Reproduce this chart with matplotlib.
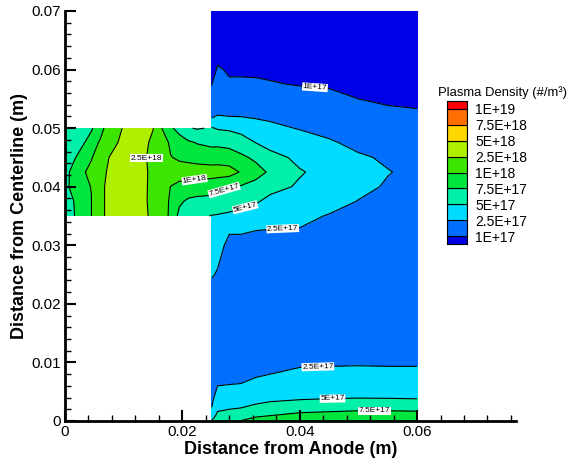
import numpy as np
import matplotlib
matplotlib.use('Agg')
import matplotlib.pyplot as plt
from matplotlib.ticker import MultipleLocator

plt.rcParams['font.family'] = ['Liberation Sans', 'DejaVu Sans']

# contour levels (#/m^3) and legend labels
levels = [1e17, 2.5e17, 5e17, 7.5e17, 1e18, 2.5e18, 5e18, 7.5e18, 1e19]
level_labels = ['1E+17', '2.5E+17', '5E+17', '7.5E+17', '1E+18',
                '2.5E+18', '5E+18', '7.5E+18', '1E+19']
# band colours, lowest band first
band_colors = ['#0000e6', '#006eff', '#00dcff', '#00f0aa', '#00e63c',
               '#3ce600', '#afef00', '#ffd700', '#ff6e00', '#ff0000']

# ---- channel region (density in units of 1E17 #/m^3) ----
chan_x = [0, .0015, .003, .0045, .006, .0075, .009, .0105, .012, .0135,
          .015, .0165, .018, .0195, .021, .0225, .025]
chan_y = [0.035, 0.0375, 0.040, 0.0425, 0.045, 0.0475, 0.050]
chan_n = [
    [6.8, 7.4, 8.6, 9.9, 22, 28, 30.5, 31, 30, 27, 22.5, 12.5, 9.0, 7.0, 6.0, 5.5, 4.9],
    [6.8, 7.5, 8.8, 9.9, 22, 28, 31, 31.5, 30.5, 27, 21, 12, 9.4, 7.8, 7.2, 7.0, 6.8],
    [7.0, 8.1, 9.2, 10.1, 22, 28, 31, 32, 31, 27, 21.5, 13, 9.9, 8.8, 8.6, 8.5, 8.5],
    [7.0, 8.0, 9.3, 11.5, 18, 28, 31, 32, 31, 27, 22, 14, 12.5, 12, 11.8, 11.5, 11.2],
    [6.8, 7.3, 8.2, 9.6, 13, 25, 30, 31, 30, 26.5, 21, 12, 10.2, 9.3, 9.0, 8.8, 8.7],
    [6.0, 6.7, 7.3, 8.2, 10.5, 17, 25, 30, 31, 28, 22, 12.5, 9.2, 8.4, 7.9, 7.4, 7.0],
    [5.5, 6.2, 6.8, 7.3, 8.5, 12, 22, 28, 31, 29, 25.5, 10, 7.8, 6.8, 5.2, 4.8, 5.2],
]

# ---- plume region (density in units of 1E17 #/m^3) ----
plume_x = [0.025, 0.026, 0.028, 0.030, 0.0325, 0.035, 0.040, 0.045, 0.050, 0.055, 0.060]
plume_y = [0, 0.001, 0.002, 0.004, 0.006, 0.008, 0.010, 0.015, 0.020, 0.025, 0.030,
           0.0325, 0.035, 0.0375, 0.040, 0.0425, 0.045, 0.0475, 0.050, 0.0525,
           0.055, 0.0575, 0.060, 0.065, 0.070]
plume_n = [
    [5.0, 6.5, 7.0, 7.6, 8.3, 8.6, 9.0, 9.2, 9.3, 9.3, 9.2],
    [3.8, 5.5, 6.0, 6.3, 7.1, 7.4, 8.0, 8.2, 8.4, 8.4, 8.35],
    [2.6, 4.7, 5.0, 5.2, 5.8, 6.3, 6.8, 7.0, 7.2, 7.2, 7.1],
    [2.0, 3.3, 3.4, 3.5, 4.0, 4.3, 4.6, 4.8, 4.9, 4.85, 4.75],
    [1.8, 2.5, 2.55, 2.6, 3.0, 3.3, 3.6, 3.7, 3.7, 3.7, 3.6],
    [1.65, 2.0, 2.1, 2.1, 2.3, 2.5, 2.9, 2.9, 3.0, 2.9, 2.9],
    [1.6, 1.75, 1.8, 1.8, 1.9, 2.0, 2.2, 2.3, 2.3, 2.3, 2.3],
    [1.55, 1.6, 1.6, 1.6, 1.6, 1.6, 1.7, 1.7, 1.7, 1.7, 1.7],
    [1.8, 1.65, 1.6, 1.6, 1.6, 1.55, 1.6, 1.55, 1.5, 1.5, 1.5],
    [2.6, 2.4, 1.85, 1.8, 1.75, 1.65, 1.6, 1.55, 1.5, 1.45, 1.45],
    [3.2, 2.9, 2.2, 2.2, 2.2, 2.1, 2.0, 1.8, 1.65, 1.55, 1.5],
    [3.9, 3.3, 2.6, 2.6, 2.5, 2.45, 2.4, 2.1, 1.85, 1.7, 1.6],
    [4.9, 4.8, 4.5, 4.0, 3.5, 3.0, 2.9, 2.4, 2.1, 1.85, 1.7],
    [6.8, 6.6, 6.4, 6.0, 5.3, 4.3, 3.8, 3.1, 2.45, 2.05, 1.85],
    [8.5, 8.1, 7.6, 7.3, 6.6, 5.8, 4.7, 3.8, 2.9, 2.35, 2.05],
    [11.2, 11.2, 11.0, 9.8, 8.5, 7.1, 5.2, 4.2, 3.0, 2.56, 2.2],
    [8.7, 8.8, 8.6, 8.0, 7.0, 5.9, 4.4, 3.7, 2.7, 2.3, 2.0],
    [7.0, 7.0, 6.8, 6.0, 5.0, 4.0, 3.3, 2.7, 2.1, 1.85, 1.65],
    [5.2, 4.8, 4.6, 4.3, 3.4, 2.9, 2.4, 2.0, 1.6, 1.4, 1.3],
    [1.3, 2.2, 2.0, 2.0, 2.0, 2.0, 1.8, 1.55, 1.25, 1.1, 1.05],
    [1.2, 1.7, 1.6, 1.6, 1.6, 1.5, 1.3, 1.12, 1.0, 0.92, 0.9],
    [0.98, 1.35, 1.05, 1.1, 1.1, 1.05, 0.96, 0.95, 0.85, 0.8, 0.78],
    [0.8, 1.05, 0.95, 0.9, 0.88, 0.85, 0.8, 0.8, 0.72, 0.7, 0.68],
    [0.6, 0.7, 0.65, 0.63, 0.62, 0.62, 0.6, 0.6, 0.58, 0.57, 0.56],
    [0.5, 0.5, 0.5, 0.5, 0.5, 0.5, 0.5, 0.5, 0.5, 0.5, 0.5],
]

# contour label anchor points (data coords)
chan_label_pts = [(0.0145, 0.0449), (0.0221, 0.0411)]
plume_label_pts = [(0.0272, 0.0391), (0.0308, 0.0360), (0.0371, 0.0330),
                   (0.0426, 0.0569), (0.0431, 0.0090), (0.0456, 0.0038),
                   (0.0528, 0.0019)]

fig = plt.figure(figsize=(5.76, 4.63), dpi=100)
ax = fig.add_axes([65 / 576, 1 - 421 / 463, 450.6 / 576, 410 / 463])

bounds = [0] + levels + [1e21]
fmt = dict(zip(levels, level_labels))

for X, Y, N, pts in [(chan_x, chan_y, chan_n, chan_label_pts),
                     (plume_x, plume_y, plume_n, plume_label_pts)]:
    Z = np.array(N) * 1e17
    ax.contourf(X, Y, Z, levels=bounds, colors=band_colors)
    cs = ax.contour(X, Y, Z, levels=levels, colors='k', linewidths=0.8)
    txts = ax.clabel(cs, fmt=fmt, manual=pts, inline=True, fontsize=6,
                     inline_spacing=3)
    for t in txts:
        t.set_bbox(dict(facecolor='white', edgecolor='none', pad=0.4))
        if t.get_text() == '2.5E+18':
            t.set_rotation(0)

ax.set_xlim(0, 0.0768)
ax.set_ylim(0, 0.07)
ax.xaxis.set_major_locator(MultipleLocator(0.02))
ax.xaxis.set_minor_locator(MultipleLocator(0.004))
ax.yaxis.set_major_locator(MultipleLocator(0.01))
ax.yaxis.set_minor_locator(MultipleLocator(0.002))
ax.xaxis.set_major_formatter(plt.FuncFormatter(lambda v, p: '0' if abs(v) < 1e-9 else f'{v:g}'))
ax.yaxis.set_major_formatter(plt.FuncFormatter(lambda v, p: '0' if abs(v) < 1e-9 else f'{v:g}'))
ax.tick_params(which='major', direction='in', length=8, width=1.5, labelsize=11, pad=3)
ax.tick_params(which='minor', direction='in', length=4, width=1)
for s in ['top', 'right']:
    ax.spines[s].set_visible(False)
for s in ['left', 'bottom']:
    ax.spines[s].set_linewidth(2)
ax.set_xlabel('Distance from Anode (m)', fontsize=13, fontweight='bold', labelpad=1)
ax.set_ylabel('Distance from Centerline (m)', fontsize=13, fontweight='bold', labelpad=2)

# legend (Tecplot style)
cax = fig.add_axes([447 / 576, 1 - 244 / 463, 20 / 576, 143 / 463])
heights = [0.5] + [1] * 8 + [0.5]
bottoms = np.concatenate([[0], np.cumsum(heights)[:-1]])
cax.bar(0, heights, bottom=bottoms, width=1, color=band_colors,
        edgecolor='k', linewidth=0.8)
cax.set_xlim(-0.5, 0.5)
cax.set_ylim(0, 9)
cax.set_xticks([])
cax.yaxis.tick_right()
cax.set_yticks(np.arange(9) + 0.5)
cax.set_yticklabels(level_labels, fontsize=10)
cax.tick_params(axis='y', length=0, pad=6)
for s in cax.spines.values():
    s.set_linewidth(0.8)
fig.text(438 / 576, 1 - 93 / 463, 'Plasma Density (#/m³)', fontsize=9.4, va='center')

fig.savefig('out.png', dpi=100)
